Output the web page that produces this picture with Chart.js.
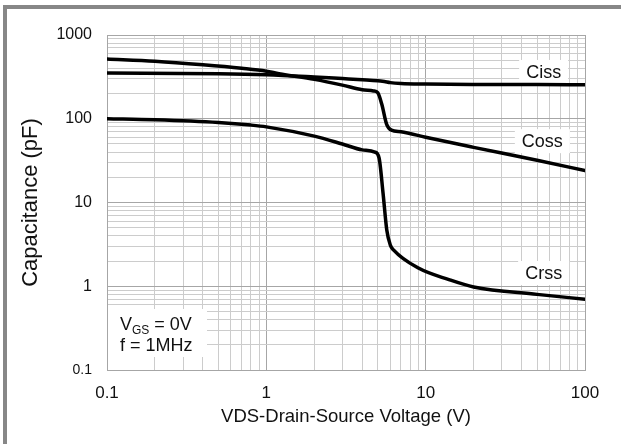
<!DOCTYPE html>
<html>
<head>
<meta charset="utf-8">
<script src="https://cdn.jsdelivr.net/npm/chart.js@4"></script>
<style>
  body { margin: 0; background: #fff; }
  canvas { display: block; }
</style>
</head>
<body>
<canvas id="chart" width="621" height="444"></canvas>
<script>
// axis decades (labelled ticks)
const xTickLabels = [0.1, 1, 10, 100];
const yTickLabels = [0.1, 1, 10, 100, 1000];

// curves (V, pF)
const cissV = [0.1, 0.5, 1, 2, 3, 4, 5, 5.5, 6, 7, 10, 20, 50, 100];
const cissC = [352, 345, 335, 315, 302, 293, 285, 278, 270, 264, 260, 257, 256, 255];

const cossV = [0.1, 0.2, 0.4, 0.7, 1, 1.2, 2, 3, 4, 4.7, 5, 5.3, 5.7, 6.1, 7, 10, 20, 50, 100];
const cossC = [517, 485, 440, 400, 370, 345, 295, 252, 222, 215, 205, 150, 85, 73, 70, 60, 45.5, 32, 24];

const crssV = [0.1, 0.2, 0.5, 0.8, 1, 2, 3, 4, 4.8, 5.1, 5.4, 5.7, 6, 6.3, 9, 14, 20, 50, 100];
const crssC = [100, 97, 90, 84, 80, 62, 50, 42.5, 40, 34, 13, 4.7, 3.1, 2.7, 1.65, 1.2, 0.98, 0.8, 0.7];

const curveNames = ['Ciss', 'Coss', 'Crss'];
const nameSpots = [[55, 362], [54, 54], [55, 1.44]];

const FONT = "'Liberation Sans', Arial, sans-serif";
const minorGrid = '#cccccc';
const majorGrid = '#a6a6a6';

function toPoints(xs, ys) {
  return xs.map((v, i) => ({ x: v, y: ys[i] }));
}

// 1..9 per decade, plus the last decade
function logTicks(decades) {
  const out = [];
  decades.forEach((d, i) => {
    if (i === decades.length - 1) {
      out.push({ value: d });
      return;
    }
    for (let m = 1; m < 10; m++) out.push({ value: +(d * m).toPrecision(3) });
  });
  return out;
}

const framePlugin = {
  id: 'frame',
  beforeDraw(chart) {
    const ctx = chart.ctx;
    ctx.save();
    ctx.fillStyle = '#fff';
    ctx.fillRect(0, 0, chart.width, chart.height);
    ctx.fillStyle = '#878787';
    ctx.fillRect(3, 5, 4, chart.height - 5);
    ctx.fillRect(3, 5, chart.width - 3, 4);
    ctx.restore();
  }
};

const notesPlugin = {
  id: 'notes',
  beforeDatasetsDraw(chart) {
    const ctx = chart.ctx;
    const xs = chart.scales.x;
    const ys = chart.scales.y;
    ctx.save();
    ctx.font = '18px ' + FONT;
    ctx.textAlign = 'center';
    ctx.textBaseline = 'middle';
    curveNames.forEach((name, i) => {
      const px = xs.getPixelForValue(nameSpots[i][0]);
      const py = ys.getPixelForValue(nameSpots[i][1]);
      const w = ctx.measureText(name).width + 14;
      ctx.fillStyle = '#fff';
      ctx.fillRect(px - w / 2, py - 12, w, 24);
      ctx.fillStyle = '#111';
      ctx.fillText(name, px, py + 1);
    });

    // test conditions box
    const left = chart.chartArea.left;
    const bottom = chart.chartArea.bottom;
    ctx.fillStyle = '#fff';
    ctx.fillRect(left + 1, bottom - 61, 99, 48);
    ctx.fillStyle = '#111';
    ctx.textAlign = 'left';
    ctx.textBaseline = 'alphabetic';
    let x = left + 13;
    ctx.font = '18px ' + FONT;
    ctx.fillText('V', x, bottom - 40);
    x += ctx.measureText('V').width;
    ctx.font = '12px ' + FONT;
    ctx.fillText('GS', x, bottom - 36);
    x += ctx.measureText('GS').width;
    ctx.font = '18px ' + FONT;
    ctx.fillText(' = 0V', x, bottom - 40);
    ctx.fillText('f = 1MHz', left + 13, bottom - 19);
    ctx.restore();
  }
};

const lineStyle = {
  borderColor: '#000',
  borderWidth: 3.5,
  pointRadius: 0,
  fill: false,
  cubicInterpolationMode: 'monotone',
  borderJoinStyle: 'round',
  borderCapStyle: 'round'
};

new Chart(document.getElementById('chart'), {
  type: 'line',
  data: {
    datasets: [
      { label: 'Ciss', data: toPoints(cissV, cissC), ...lineStyle },
      { label: 'Coss', data: toPoints(cossV, cossC), ...lineStyle },
      { label: 'Crss', data: toPoints(crssV, crssC), ...lineStyle }
    ]
  },
  options: {
    responsive: false,
    devicePixelRatio: 1,
    animation: false,
    layout: { padding: { top: 35, right: 36, bottom: 0, left: 0 } },
    plugins: {
      legend: { display: false },
      tooltip: { enabled: false }
    },
    scales: {
      x: {
        type: 'logarithmic',
        min: 0.1,
        max: 100,
        afterBuildTicks: (scale) => { scale.ticks = logTicks(xTickLabels); },
        afterFit: (scale) => { scale.height = 74; },
        grid: {
          drawTicks: false,
          color: (c) => (c.tick && xTickLabels.includes(c.tick.value) ? majorGrid : minorGrid)
        },
        border: { color: majorGrid },
        ticks: {
          autoSkip: false,
          maxRotation: 0,
          padding: 13,
          color: '#111',
          font: { family: FONT, size: 17 },
          callback: (v) => (xTickLabels.includes(v) ? String(v) : '')
        },
        title: {
          display: true,
          text: 'VDS-Drain-Source Voltage (V)',
          color: '#111',
          font: { family: FONT, size: 18.5 },
          padding: { top: 0, bottom: 16 }
        }
      },
      y: {
        type: 'logarithmic',
        min: 0.1,
        max: 1000,
        afterBuildTicks: (scale) => { scale.ticks = logTicks(yTickLabels); },
        afterFit: (scale) => { scale.width = 107; },
        grid: {
          drawTicks: false,
          color: (c) => (c.tick && yTickLabels.includes(c.tick.value) ? majorGrid : minorGrid)
        },
        border: { color: majorGrid },
        ticks: {
          autoSkip: false,
          padding: 15,
          color: '#111',
          font: (c) => ({ family: FONT, size: c.tick && c.tick.value === 0.1 ? 14 : 16 }),
          callback: (v) => (yTickLabels.includes(v) ? String(v) : '')
        },
        title: {
          display: true,
          text: 'Capacitance (pF)',
          color: '#111',
          font: { family: FONT, size: 22 },
          padding: { top: 18, bottom: 0 }
        }
      }
    }
  },
  plugins: [framePlugin, notesPlugin]
});
</script>
</body>
</html>
